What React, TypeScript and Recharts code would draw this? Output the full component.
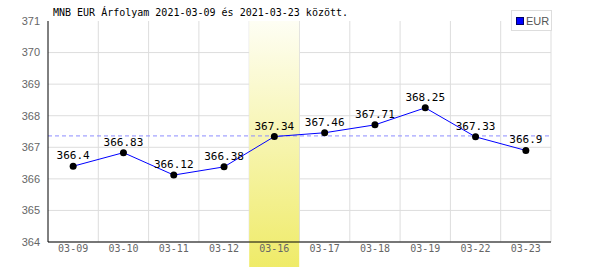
import React from "react";
import {
  ComposedChart,
  Bar,
  Line,
  XAxis,
  YAxis,
  CartesianGrid,
  ReferenceLine,
  LabelList,
} from "recharts";

const dates = ["03-09", "03-10", "03-11", "03-12", "03-16", "03-17", "03-18", "03-19", "03-22", "03-23"];
const rates = [366.4, 366.83, 366.12, 366.38, 367.34, 367.46, 367.71, 368.25, 367.33, 366.9];
const yTicks = [364, 365, 366, 367, 368, 369, 370, 371];
const highlightDate = "03-16";
const averageRate = 367.36;

const Y_MIN = yTicks[0];
const Y_MAX = yTicks[yTicks.length - 1];

const data = dates.map((date, i) => ({
  date,
  rate: rates[i],
  band: date === highlightDate ? [Y_MIN, Y_MAX] : null,
}));

const MONO = "'DejaVu Sans Mono', monospace";

// the highlighted day runs down past the axis, over its label
const HighlightShape = (p: any) => (
  <rect x={p.x} y={p.y} width={p.width} height={p.height + 25} fill="url(#hlGrad)" />
);

export default function App() {
  return (
    <div style={{ position: "absolute", left: 0, top: 0, width: 600, height: 270, background: "#fff" }}>
      <ComposedChart
        width={600}
        height={270}
        data={data}
        margin={{ top: 21, right: 49, bottom: 0, left: 0 }}
        barCategoryGap={0}
      >
        <defs>
          <linearGradient id="hlGrad" x1="0" y1="0" x2="0" y2="1">
            <stop offset="0%" stopColor="#fefef4" />
            <stop offset="100%" stopColor="#efeb68" />
          </linearGradient>
        </defs>
        <Bar dataKey="band" shape={HighlightShape} isAnimationActive={false} />
        <CartesianGrid
          stroke="#dddddd"
          verticalCoordinatesGenerator={({ offset }: any) =>
            dates.map((_, i) => offset.left + (offset.width * (i + 1)) / dates.length)
          }
          horizontalCoordinatesGenerator={({ offset }: any) =>
            yTicks.slice(0, -1).map((_, i) => offset.top + (offset.height * (i + 1)) / (yTicks.length - 1))
          }
        />
        <XAxis
          dataKey="date"
          interval={0}
          tickLine={false}
          tickSize={0}
          tickMargin={3}
          height={28}
          axisLine={{ stroke: "#000" }}
          tick={{ fill: "#666", fontSize: 10, fontFamily: MONO }}
        />
        <YAxis
          domain={[Y_MIN, Y_MAX]}
          ticks={yTicks}
          width={48}
          tickLine={false}
          tickSize={0}
          tickMargin={8}
          axisLine={{ stroke: "#000" }}
          tick={{ fill: "#666", fontSize: 11, fontFamily: "'Liberation Sans', Arial, sans-serif" }}
        />
        <ReferenceLine y={averageRate} stroke="#8c8cff" strokeDasharray="4 3" />
        <Line
          dataKey="rate"
          stroke="#0000ff"
          strokeWidth={1}
          dot={{ r: 3.5, fill: "#000", stroke: "#000", strokeWidth: 0 }}
          activeDot={false}
          isAnimationActive={false}
        >
          <LabelList dataKey="rate" position="top" offset={7} fill="#000" fontSize={11} fontFamily={MONO} />
        </Line>
      </ComposedChart>
      <div
        style={{
          position: "absolute",
          left: 53,
          top: 7,
          fontFamily: MONO,
          fontSize: 10,
          lineHeight: "12px",
          color: "#000",
          whiteSpace: "nowrap",
        }}
      >
        MNB EUR Árfolyam 2021-03-09 és 2021-03-23 között.
      </div>
      <div
        style={{
          position: "absolute",
          left: 511,
          top: 10,
          width: 39,
          height: 19,
          border: "1px solid #dddddd",
          background: "#fff",
          display: "flex",
          alignItems: "center",
          fontFamily: "'Liberation Sans', Arial, sans-serif",
          fontSize: 11,
          color: "#555",
        }}
      >
        <span style={{ display: "inline-block", width: 6, height: 6, background: "#0000ff", border: "1px solid #000066", marginLeft: 4, marginRight: 2 }} />
        EUR
      </div>
    </div>
  );
}
